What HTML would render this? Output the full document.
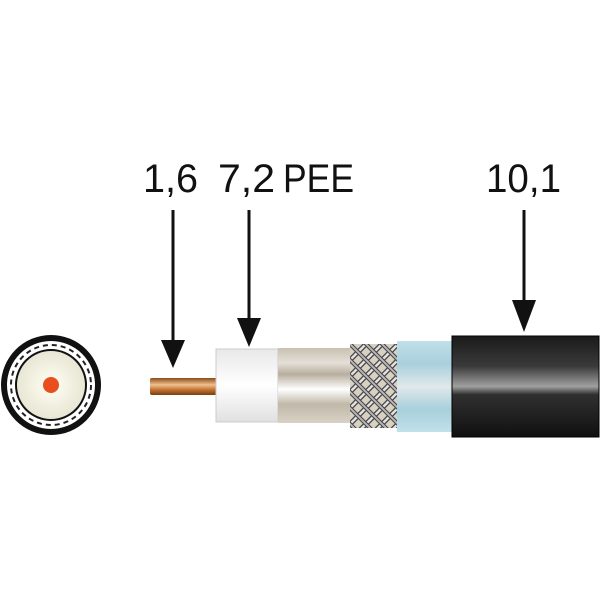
<!DOCTYPE html>
<html><head><style>body{margin:0;background:#fff}svg{display:block}</style></head><body>
<svg width="600" height="600" viewBox="0 0 600 600" xmlns="http://www.w3.org/2000/svg">
<defs>
<radialGradient id="core" cx="50%" cy="50%" r="50%"><stop offset="0" stop-color="#fffff4"/><stop offset="1" stop-color="#e8e6d4"/></radialGradient>
<linearGradient id="cu" x1="0" y1="0" x2="0" y2="1"><stop offset="0" stop-color="#8a4a14"/><stop offset=".4" stop-color="#f0c090"/><stop offset=".7" stop-color="#c07030"/><stop offset="1" stop-color="#7a3e10"/></linearGradient>
<linearGradient id="wh" x1="0" y1="0" x2="0" y2="1"><stop offset="0" stop-color="#e8e8e8"/><stop offset=".5" stop-color="#fff"/><stop offset="1" stop-color="#e0e0e0"/></linearGradient>
<linearGradient id="ag" x1="0" y1="0" x2="0" y2="1"><stop offset="0" stop-color="#c8c0b0"/><stop offset=".2" stop-color="#e4e0d8"/><stop offset=".35" stop-color="#b8ae9e"/><stop offset=".55" stop-color="#ffffff"/><stop offset=".75" stop-color="#c0b8a8"/><stop offset="1" stop-color="#d8d2c6"/></linearGradient>
<linearGradient id="bl" x1="0" y1="0" x2="0" y2="1"><stop offset="0" stop-color="#c0e0ea"/><stop offset=".25" stop-color="#a8d0dc"/><stop offset=".5" stop-color="#e0e8ea"/><stop offset=".75" stop-color="#a8d0dc"/><stop offset="1" stop-color="#c0e0ea"/></linearGradient>
<linearGradient id="bk" x1="0" y1="0" x2="0" y2="1"><stop offset="0" stop-color="#1a1a1a"/><stop offset=".3" stop-color="#3a3a3a"/><stop offset=".5" stop-color="#a0a0a0"/><stop offset=".58" stop-color="#303030"/><stop offset="1" stop-color="#101010"/></linearGradient>
<pattern id="br" width="16" height="16" patternUnits="userSpaceOnUse" x="350" y="344"><rect width="16" height="16" fill="#d8d0c0"/><path d="M-4,4 L4,-4 M0,16 L16,0 M12,20 L20,12" stroke="#444" stroke-width="5"/><path d="M-4,4 L4,-4 M0,16 L16,0 M12,20 L20,12" stroke="#e0e0e0" stroke-width="2.5"/><path d="M-4,12 L4,20 M0,0 L16,16 M12,-4 L20,4" stroke="#444" stroke-width="4"/><path d="M-4,12 L4,20 M0,0 L16,16 M12,-4 L20,4" stroke="#b8b8b8" stroke-width="2"/></pattern>
</defs>
<circle cx="51" cy="385" r="50" fill="#111"/>
<circle cx="51" cy="385" r="44" fill="#fff"/>
<circle cx="51" cy="385" r="40" fill="none" stroke="#222" stroke-width="2" stroke-dasharray="5 4"/>
<circle cx="51" cy="385" r="36" fill="#111"/>
<circle cx="51" cy="385" r="34" fill="url(#core)"/>
<circle cx="51" cy="385" r="8" fill="#e84e1e"/>
<rect x="150" y="378" width="67" height="17" rx="2" fill="url(#cu)"/>
<rect x="216" y="349" width="62" height="73" fill="url(#wh)" stroke="#ccc"/>
<rect x="278" y="348" width="73" height="75" fill="url(#ag)"/>
<rect x="350" y="344" width="48" height="84" fill="url(#br)"/>
<rect x="397" y="341" width="56" height="91" fill="url(#bl)"/>
<rect x="452" y="336" width="147" height="101" fill="url(#bk)" stroke="#000"/>
<g stroke="#111" stroke-width="3"><line x1="173" y1="210" x2="173" y2="345"/><line x1="249" y1="210" x2="249" y2="322"/><line x1="524" y1="210" x2="524" y2="305"/></g>
<g fill="#111"><polygon points="161,340 185,340 173,368"/><polygon points="237,318 261,318 249,347"/><polygon points="512,300 536,300 524,332"/></g>
<g font-family="Liberation Sans, sans-serif" font-size="40" fill="#111">
<text x="143" y="192" textLength="55" lengthAdjust="spacingAndGlyphs">1,6</text>
<text x="218" y="192" textLength="57" lengthAdjust="spacingAndGlyphs">7,2</text>
<text x="283" y="192" textLength="71" lengthAdjust="spacingAndGlyphs">PEE</text>
<text x="486" y="192" textLength="75" lengthAdjust="spacingAndGlyphs">10,1</text>
</g>
</svg>
</body></html>
